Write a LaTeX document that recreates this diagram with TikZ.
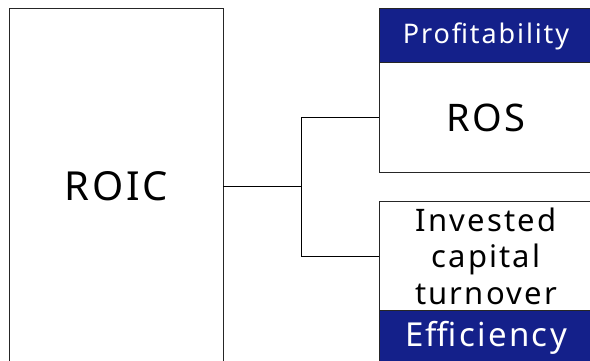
\documentclass[tikz,border=0pt]{standalone}
\usepackage{fontspec}
\setmainfont[LetterSpace=7]{Noto Sans}
\usetikzlibrary{positioning}
\definecolor{navyhead}{RGB}{20,32,138}
\tikzset{
  box/.style={draw=black!85,line width=1pt,fill=white,minimum width=214pt,inner sep=0pt,outer sep=0pt,align=center},
  headbox/.style={box,fill=navyhead,text=white,minimum height=54pt}
}
\begin{document}
\begin{tikzpicture}[x=1pt,y=-1pt]
  		\useasboundingbox (0,0) rectangle (590,361);
  		\clip (0,0) rectangle (590,361);
  		\fill[white] (0,0) rectangle (590,361);
  		\node[box,minimum height=354pt,font=\fontsize{40}{44}\selectfont] (roic) at (116,186) {ROIC};
  		\node[headbox,font=\fontsize{27}{30}\selectfont] (prof) at (486,36) {Profitability};
  		\node[box,below=0pt of prof,minimum height=110pt,font=\fontsize{38}{42}\selectfont] (ros) {ROS};
  		\node[box,minimum height=109pt,font=\fontsize{31}{36.5}\selectfont] (ict) at (486,256) {Invested\\capital\\turnover};
  		\node[headbox,below=0pt of ict,font=\fontsize{33}{38}\selectfont] (eff) {Efficiency};
  		\coordinate (fork) at (301,186);
  		\draw[line width=1pt] (roic.east) -- (fork);
  		\draw[line width=1pt] (ros.west) -| (fork);
  		\draw[line width=1pt] (ict.west) -| (fork);
\end{tikzpicture}
\end{document}
